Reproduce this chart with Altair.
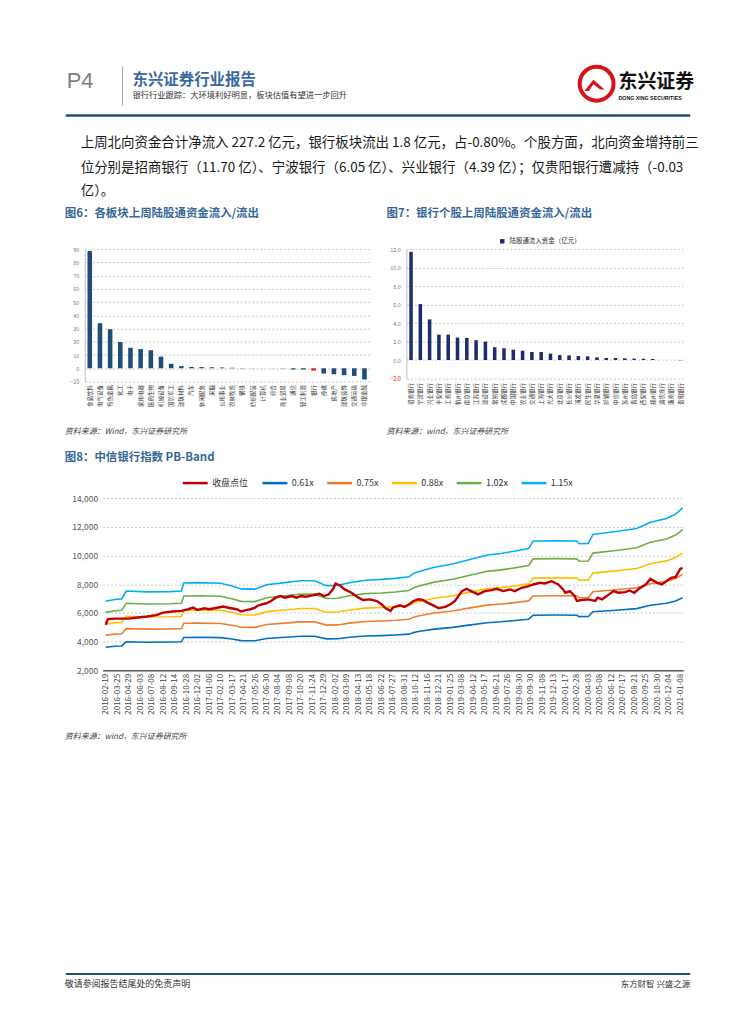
import altair as alt
import pandas as pd

CJK = "Noto Sans CJK SC"

# ---------------- Fig 6: sector flows (亿元) ----------------
industries = ["食品饮料", "电气设备", "有色金属", "化工", "电子", "家用电器", "医药生物",
              "机械设备", "国防军工", "建筑材料", "汽车", "休闲服务", "采掘", "公用事业",
              "农林牧渔", "钢铁", "纺织服装", "计算机", "综合", "商业贸易", "通信",
              "轻工制造", "银行", "传媒", "房地产", "建筑装饰", "交通运输", "非银金融"]
industry_flow = [88.5, 34.0, 29.5, 19.8, 15.5, 14.5, 13.6, 8.8, 3.4, 1.6, 1.0, 0.9, 0.8, 0.6,
                 0.4, 0.2, 0.1, 0.05, -0.1, -0.2, -0.9, -1.0, -1.8, -4.0, -4.5, -5.2, -5.8, -8.5]
fig6_ticks = [-10, 0, 10, 20, 30, 40, 50, 60, 70, 80, 90]

# ---------------- Fig 7: bank stock flows (亿元) ----------------
banks = ["招商银行", "宁波银行", "兴业银行", "平安银行", "工商银行", "杭州银行", "南京银行",
         "江苏银行", "建设银行", "常熟银行", "成都银行", "中国银行", "农业银行", "交通银行",
         "上海银行", "光大银行", "北京银行", "长沙银行", "浦发银行", "民生银行", "华夏银行",
         "邮储银行", "中信银行", "苏州银行", "青岛银行", "西安银行", "郑州银行", "渝农商行",
         "浙商银行", "贵阳银行"]
bank_flow = [11.70, 6.05, 4.39, 2.75, 2.75, 2.43, 2.39, 2.14, 1.99, 1.38, 1.27, 1.12, 1.01, 0.87,
             0.87, 0.69, 0.54, 0.50, 0.43, 0.40, 0.29, 0.22, 0.22, 0.18, 0.15, 0.14, 0.11, 0.01,
             0.00, -0.03]
fig7_ticks = [-2, 0, 2, 4, 6, 8, 10, 12]
fig7_series = "陆股通流入资金（亿元）"

# ---------------- Fig 8: PB-Band (weekly, week index) ----------------
x_labels = ["2016-02-19", "2016-03-25", "2016-04-29", "2016-06-03", "2016-07-08", "2016-08-12",
            "2016-09-14", "2016-10-28", "2016-12-02", "2017-01-06", "2017-02-10", "2017-03-17",
            "2017-04-21", "2017-05-26", "2017-06-30", "2017-08-04", "2017-09-08", "2017-10-20",
            "2017-11-24", "2017-12-29", "2018-02-02", "2018-03-09", "2018-04-13", "2018-05-18",
            "2018-06-22", "2018-07-27", "2018-08-31", "2018-10-12", "2018-11-16", "2018-12-21",
            "2019-01-25", "2019-03-08", "2019-04-12", "2019-05-17", "2019-06-21", "2019-07-26",
            "2019-08-30", "2019-09-30", "2019-11-08", "2019-12-13", "2020-01-17", "2020-02-28",
            "2020-04-03", "2020-05-08", "2020-06-12", "2020-07-17", "2020-08-21", "2020-09-25",
            "2020-10-30", "2020-12-04", "2021-01-08"]

close_week = [0, 1, 4, 10, 14, 18, 22, 25, 29, 33, 36, 38, 40, 43, 45, 48, 51, 54, 57, 59, 61, 63,
              65, 66, 68, 70, 72, 74, 76, 78, 81, 83, 85, 87, 90, 93, 95, 97, 99, 100, 102, 104,
              107, 110, 112, 115, 118, 120, 122, 124, 125, 128, 130, 132, 134, 136, 138, 140, 143,
              145, 148, 150, 152, 154, 155, 157, 159, 162, 165, 168, 170, 173, 176, 178, 181, 184,
              186, 189, 191, 194, 197, 199, 200, 202, 204, 205, 207, 210, 213, 214, 216, 219, 221,
              223, 226, 228, 230, 232, 235, 237, 240, 242, 243, 246, 248, 250, 251]
close_value = [5174, 5565, 5600, 5600, 5680, 5750, 5840, 6025, 6100, 6140, 6255, 6370, 6210, 6325,
               6255, 6345, 6440, 6345, 6255, 6100, 6190, 6255, 6370, 6485, 6600, 6670, 6830, 7060,
               7175, 7060, 7175, 7060, 7175, 7130, 7220, 7335, 7175, 7290, 7680, 8050, 7910, 7635,
               7405, 7060, 6900, 6945, 6830, 6600, 6300, 6140, 6370, 6530, 6415, 6600, 6830, 6945,
               6900, 6715, 6485, 6325, 6440, 6600, 6830, 7290, 7520, 7680, 7520, 7290, 7520, 7590,
               7680, 7520, 7635, 7520, 7750, 7865, 7980, 8095, 8050, 8210, 7980, 7635, 7405, 7520,
               7175, 6830, 6900, 6945, 6830, 7060, 6945, 7290, 7520, 7405, 7450, 7565, 7405, 7680,
               7980, 8370, 8095, 7980, 8095, 8440, 8510, 9060, 9130]

# index book value per share (1.00x PB)
bv_week = [0, 4, 7, 9, 18, 28, 33, 34, 40, 50, 55, 59, 65, 70, 78, 85, 91, 96, 101, 106, 113, 120,
           126, 132, 134, 136, 143, 151, 158, 166, 172, 177, 184, 186, 196, 205, 206, 210, 212,
           222, 231, 237, 244, 248, 251]
bv_value = [5918, 6033, 6066, 6541, 6492, 6508, 6541, 7033, 7049, 7016, 6852, 6672, 6656, 6918,
            7049, 7164, 7164, 6869, 6885, 7049, 7197, 7246, 7311, 7410, 7607, 7705, 7984, 8180,
            8443, 8721, 8820, 8934, 9115, 9574, 9590, 9574, 9410, 9426, 9967, 10148, 10328,
            10705, 10934, 11197, 11574]
pb_multiples = [0.61, 0.75, 0.88, 1.02, 1.15]
fig8_ticks = [2000, 4000, 6000, 8000, 10000, 12000, 14000]
close_name = "收盘点位"

# ---------------- helpers ----------------
dummy = pd.DataFrame({"d": [0]})


def T(text, x, y, size, color="#333333", weight="normal", align="left", italic=False,
      font=CJK, baseline="middle"):
    kw = dict(text=text, fontSize=size, color=color, fontWeight=weight, align=align,
              baseline=baseline, font=font)
    if italic:
        kw["fontStyle"] = "italic"
    return alt.Chart(dummy).mark_text(**kw).encode(x=alt.value(x), y=alt.value(y))


def HR(x1, x2, y, color, w):
    return alt.Chart(dummy).mark_rule(color=color, strokeWidth=w).encode(
        x=alt.value(x1), x2=alt.value(x2), y=alt.value(y))


def VR(x, y1, y2, color, w):
    return alt.Chart(dummy).mark_rule(color=color, strokeWidth=w).encode(
        x=alt.value(x), y=alt.value(y1), y2=alt.value(y2))


def spacer(w, h):
    return alt.Chart(dummy).mark_point(opacity=0).encode(
        x=alt.value(0), y=alt.value(0)).properties(width=w, height=h)


TITLE_BLUE = "#36679A"
SRC = "#444444"

# ---------------- Block A: header, paragraph, fig titles ----------------
logo_ring = alt.Chart(dummy).mark_point(shape="circle", filled=False, size=1156, strokeWidth=4,
                                        color="#D7141A", opacity=1).encode(
    x=alt.value(588), y=alt.value(74))
logo_roof = alt.Chart(dummy).mark_point(
    shape="M-0.75,0.35 L-0.15,-0.4 L0.6,0.25 L0.3,0.25 L-0.15,-0.1 L-0.45,0.35 Z",
    filled=True, size=900, color="#D7141A", opacity=1).encode(x=alt.value(587), y=alt.value(76))

para1 = "上周北向资金合计净流入 227.2 亿元，银行板块流出 1.8 亿元，占-0.80%。个股方面，北向资金增持前三"
para2 = "位分别是招商银行（11.70 亿）、宁波银行（6.05 亿）、兴业银行（4.39 亿）；仅贵阳银行遭减持（-0.03"
para3 = "亿）。"

blockA = alt.layer(
    T("P4", 56, 71, 22, color="#7F7F7F", font="Liberation Sans"),
    VR(112, 57, 96, "#A6A6A6", 1),
    T("东兴证券行业报告", 122, 70, 15.5, color="#3A6AA0", weight="bold"),
    T("银行行业跟踪：大环境利好明显，板块估值有望进一步回升", 122, 86, 8.3, color="#333333"),
    logo_ring, logo_roof,
    T("东兴证券", 610, 72, 19, color="#111111", weight="bold"),
    T("DONG XING SECURITIES", 610, 88, 5.3, color="#111111", weight="bold",
      font="Liberation Sans"),
    HR(55, 682, 106, "#1F4E79", 2.5),
    T(para1, 70, 134, 13.5, color="#1A1A1A"),
    T(para2, 70, 159, 13.5, color="#1A1A1A"),
    T(para3, 70, 182, 13.5, color="#1A1A1A"),
    T("图6：各板块上周陆股通资金流入/流出", 54, 205, 11.5, color=TITLE_BLUE, weight="bold"),
    T("图7：银行个股上周陆股通资金流入/流出", 377, 205, 11.5, color=TITLE_BLUE, weight="bold"),
).properties(width=739, height=240)

# ---------------- Fig 6 chart ----------------
df6 = pd.DataFrame({"industry": industries, "flow": industry_flow,
                    "grp": ["银行" if s == "银行" else "其他" for s in industries]})
fig6 = alt.Chart(df6).mark_bar().encode(
    x=alt.X("industry:N", sort=industries, title=None,
            scale=alt.Scale(paddingInner=0.55, paddingOuter=0.275),
            axis=alt.Axis(labelAngle=270, labelFontSize=5.5, labelFont=CJK, labelColor="#333333",
                          ticks=False, domain=False, labelPadding=3, labelOverlap=False)),
    y=alt.Y("flow:Q", title=None, scale=alt.Scale(domain=[-10, 90], nice=False),
            axis=alt.Axis(values=fig6_ticks, labelFontSize=5.5, labelColor="#777777",
                          gridDash=[2, 2], gridColor="#C8C8C8", domainColor="#BFBFBF",
                          ticks=False, labelPadding=6)),
    color=alt.Color("grp:N", scale=alt.Scale(domain=["其他", "银行"],
                                             range=["#1F4E79", "#E0191E"]), legend=None),
).properties(width=286, height=133)

# ---------------- Fig 7 chart ----------------
df7 = pd.DataFrame({"bank": banks, "flow": bank_flow, "legend7": fig7_series})
fig7 = alt.Chart(df7).mark_bar().encode(
    x=alt.X("bank:N", sort=banks, title=None,
            scale=alt.Scale(paddingInner=0.62, paddingOuter=0.31),
            axis=alt.Axis(labelAngle=270, labelFontSize=5.5, labelFont=CJK, labelColor="#333333",
                          ticks=False, domain=False, labelPadding=4, labelOverlap=False)),
    y=alt.Y("flow:Q", title=None, scale=alt.Scale(domain=[-2, 12], nice=False),
            axis=alt.Axis(values=fig7_ticks, format=".1f", labelFontSize=5.5,
                          labelColor=alt.expr("datum.value < 0 ? '#FF0000' : '#777777'"),
                          gridDash=[2, 2], gridColor="#C8C8C8", domainColor="#BFBFBF",
                          ticks=False, labelPadding=6)),
    color=alt.Color("legend7:N", scale=alt.Scale(domain=[fig7_series], range=["#1C2C6C"]),
                    legend=alt.Legend(orient="none", legendX=93, legendY=-11, title=None,
                                      direction="vertical", symbolType="square", symbolSize=20,
                                      symbolStrokeWidth=0, labelFontSize=6.5, labelOffset=4,
                                      labelFont=CJK, labelColor="#333333")),
).properties(width=280, height=130)

row67 = alt.hconcat(spacer(74, 133), fig6, spacer(37, 133), fig7, spacing=0,
                    bounds="flush").resolve_scale(color="independent")

# ---------------- Block C ----------------
blockC = alt.layer(
    T("资料来源：Wind，东兴证券研究所", 54, 51, 8, color=SRC, italic=True),
    T("资料来源：wind，东兴证券研究所", 377, 51, 8, color=SRC, italic=True),
    T("图8：中信银行指数 PB-Band", 54, 77, 11.5, color=TITLE_BLUE, weight="bold"),
).properties(width=739, height=117)

# ---------------- Fig 8 chart ----------------
band_names = ["%.2fx" % m for m in pb_multiples]
series_order = [close_name] + band_names
series_colors = ["#C00000", "#0070C0", "#ED7D31", "#FFC000", "#70AD47", "#00B0F0"]

rows = []
for m, name in zip(pb_multiples, band_names):
    for w, v in zip(bv_week, bv_value):
        rows.append({"week": w, "value": v * m, "series8": name})
df_bands = pd.DataFrame(rows)
df_close = pd.DataFrame({"week": close_week, "value": close_value, "series8": close_name})

label_js = "[" + ",".join("'%s'" % d for d in x_labels) + "]"
x8 = alt.X("week:Q", title=None, scale=alt.Scale(domain=[-1.3, 251.3], nice=False, zero=False),
           axis=alt.Axis(values=list(range(0, 251, 5)),
                         labelExpr=label_js + "[round(datum.value / 5)]",
                         labelAngle=270, labelFontSize=8, labelColor="#444444", grid=False,
                         ticks=False, domainColor="#595959", domainWidth=1.5, labelPadding=3,
                         labelOverlap=False, labelFlush=False, labelBound=False))
y8 = alt.Y("value:Q", title=None, scale=alt.Scale(domain=[2000, 14000], nice=False, zero=False),
           axis=alt.Axis(values=fig8_ticks, format=",d", labelFontSize=8.5, labelColor="#555555",
                         domain=False, ticks=False, gridDash=[2, 2], gridColor="#C8C8C8",
                         labelPadding=5))
legend8 = alt.Legend(orient="none", legendX=79, legendY=-29, direction="horizontal", title=None,
                     symbolType="stroke", symbolSize=625, symbolStrokeWidth=2.5, labelFontSize=9,
                     labelFont=CJK, labelColor="#333333", columnPadding=8, labelOffset=3)
color8 = alt.Color("series8:N", scale=alt.Scale(domain=series_order, range=series_colors),
                   legend=legend8)

bands = alt.Chart(df_bands).mark_line(strokeWidth=1.6).encode(x=x8, y=y8, color=color8)
close = alt.Chart(df_close).mark_line(strokeWidth=2.4).encode(x=x8, y=y8, color=color8)
fig8 = alt.layer(bands, close).properties(width=583, height=173)

row8 = alt.hconcat(spacer(92, 173), fig8, spacing=0,
                   bounds="flush").resolve_scale(color="independent")

# ---------------- Block E ----------------
blockE = alt.layer(
    T("资料来源：wind，东兴证券研究所", 54, 67, 8, color=SRC, italic=True),
    HR(55, 682, 305, "#1F4E79", 2),
    T("敬请参阅报告结尾处的免责声明", 54, 315, 9, color="#333333"),
    T("东方财智 兴盛之源", 682, 315, 8.5, color="#333333", align="right"),
).properties(width=739, height=337)

# nested concat rows occupy no height in a flush layout, so each is followed by a
# spacer view of the row's plot height
chart = alt.vconcat(blockA, row67, spacer(10, 133), blockC, row8, spacer(10, 173), blockE,
                    spacing=0, bounds="flush").resolve_scale(
    color="independent").properties(padding=0).configure(font=CJK).configure_view(stroke=None)

chart.save("out.html", embed_options={"renderer": "svg", "actions": False})
